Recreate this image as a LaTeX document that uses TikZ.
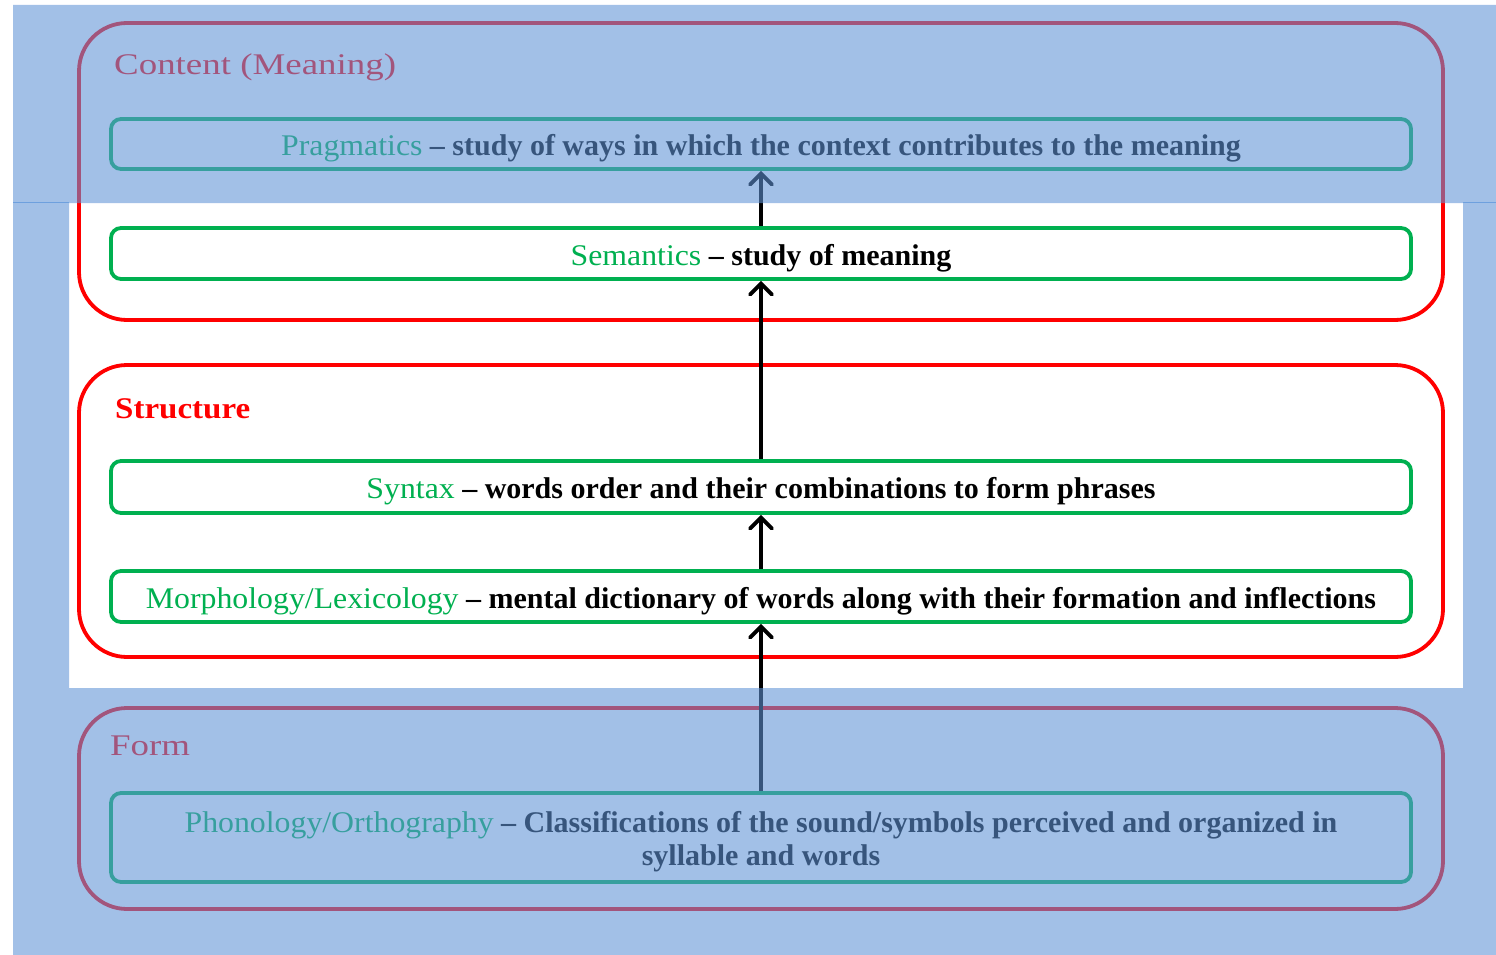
\documentclass[tikz,border=0pt]{standalone}
\usepackage{fontspec}
\setmainfont{Liberation Serif}
\newfontfamily\labfont[FakeStretch=1.06]{Liberation Serif}
\newfontfamily\titlefont[FakeStretch=1.23]{Liberation Serif}
\newfontfamily\titlebfont[FakeStretch=1.1]{Liberation Serif}
\usetikzlibrary{arrows.meta}
\definecolor{bred}{RGB}{255,0,0}
\definecolor{bgreen}{RGB}{0,176,80}
\definecolor{ovl}{RGB}{95,147,215}
\definecolor{ovline}{RGB}{110,160,222}
\newcommand{\lowered}[1]{\raisebox{-4.5pt}[\height][\depth]{#1}}
\begin{document}
\begin{tikzpicture}[x=1pt,y=-1pt,
  outerbox/.style={draw=bred, line width=3.8pt, rounded corners=48pt, minimum width=1364pt, inner sep=0pt},
  innerbox/.style={draw=bgreen, line width=3.8pt, rounded corners=10pt, minimum width=1300pt, inner sep=0pt, align=center, font=\fontsize{30}{33}\selectfont\bfseries},
  title/.style={anchor=base west, inner sep=0pt, text=bred, font=\fontsize{30}{33}\selectfont\titlefont},
  arr/.style={line width=3.8pt, -{Straight Barb[length=11pt,width=22pt,line width=3.8pt,line cap=round]}}]
\useasboundingbox (0,0) rectangle (1496,955);
\fill[white] (0,0) rectangle (1496,955);
% outer groups
\node[outerbox, minimum height=297pt] (content) at (761,171.5) {};
\node[outerbox, minimum height=292pt] (structure) at (761,511) {};
\node[outerbox, minimum height=201pt] (form) at (761,808.5) {};
% titles
\node[title] (tcontent) at (114,75) {Content (Meaning)};
\node[title, font=\fontsize{30}{33}\selectfont\titlebfont\bfseries] (tstructure) at (115,418) {Structure};
\node[title] (tform) at (110,755) {Form};
% inner boxes
\node[innerbox, minimum height=50pt] (prag) at (761,144) {\lowered{{\color{bgreen}\labfont\mdseries Pragmatics} -- study of ways in which the context contributes to the meaning}};
\node[innerbox, minimum height=51pt] (sem) at (761,253.5) {\lowered{{\color{bgreen}\labfont\mdseries Semantics} -- study of meaning}};
\node[innerbox, minimum height=52pt] (syn) at (761,487) {\lowered{{\color{bgreen}\labfont\mdseries Syntax} -- words order and their combinations to form phrases}};
\node[innerbox, minimum height=51pt] (morph) at (761,596.5) {\lowered{{\color{bgreen}\labfont\mdseries Morphology/Lexicology} -- mental dictionary of words along with their formation and inflections}};
\node[innerbox, minimum height=89pt] (phon) at (761,837.5) {\lowered{\begin{tabular}{@{}c@{}}{\color{bgreen}\labfont\mdseries Phonology/Orthography} -- Classifications of the sound/symbols perceived and organized in\\ syllable and words\end{tabular}}};
% arrows
\draw[arr] (phon.north) -- (morph.south);
\draw[arr] (morph.north) -- (syn.south);
\draw[arr] (syn.north) -- (sem.south);
\draw[arr] (sem.north) -- (prag.south);
% overlay
\fill[ovl, opacity=0.58, even odd rule] (13,5) rectangle (1496,955) (69,203) rectangle (1463,688);
\draw[ovline, line width=1pt] (13,202.5) -- (69,202.5) (1463,202.5) -- (1496,202.5);
\end{tikzpicture}
\end{document}
